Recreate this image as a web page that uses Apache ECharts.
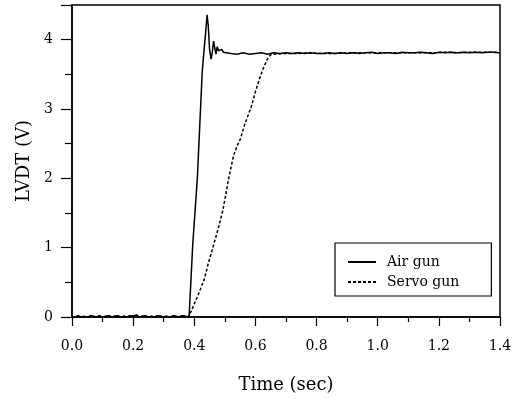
<!DOCTYPE html>
<html>
<head>
<meta charset="utf-8">
<script src="https://cdn.jsdelivr.net/npm/echarts@6/dist/echarts.min.js"></script>
<style>
html, body { margin: 0; padding: 0; background: #fff; }
#main { width: 518px; height: 399px; }
</style>
</head>
<body>
<div id="main"></div>
<script>
// baseline before the trigger (shared by both guns)
var baseTime = [0.00, 0.01, 0.02, 0.03, 0.04, 0.05, 0.06, 0.07, 0.08, 0.09,
    0.10, 0.11, 0.12, 0.13, 0.14, 0.15, 0.16, 0.17, 0.18, 0.19,
    0.20, 0.21, 0.22, 0.23, 0.24, 0.25, 0.26, 0.27, 0.28, 0.29,
    0.30, 0.31, 0.32, 0.33, 0.34, 0.35, 0.36, 0.37];
var baseLvdt = [0.01, -0.01, 0.02, 0.00, 0.01, -0.01, 0.02, 0.01, 0.00, 0.02,
    -0.01, 0.01, 0.02, 0.00, 0.01, 0.02, -0.01, 0.01, 0.00, 0.02,
    0.01, 0.03, 0.00, 0.01, 0.02, -0.01, 0.01, 0.00, 0.02, 0.01,
    0.00, 0.01, -0.01, 0.02, 0.01, 0.00, 0.02, 0.01];

// air gun rise and ringing
var airRiseTime = [0.383, 0.395, 0.41, 0.426, 0.432, 0.437, 0.442, 0.446, 0.45, 0.455,
    0.459, 0.463, 0.467, 0.471, 0.475, 0.479, 0.485, 0.49, 0.495, 0.50];
var airRiseLvdt = [0.00, 1.05, 2.00, 3.54, 3.85, 4.10, 4.36, 4.18, 3.86, 3.72,
    3.82, 3.98, 3.88, 3.79, 3.90, 3.84, 3.82, 3.86, 3.82, 3.80];

// servo gun rise
var servoRiseTime = [0.38, 0.39, 0.40, 0.41, 0.42, 0.433, 0.445, 0.462, 0.478, 0.492,
    0.502, 0.512, 0.528, 0.54, 0.551, 0.565, 0.577, 0.587, 0.60, 0.613,
    0.626, 0.639, 0.649];
var servoRiseLvdt = [0.00, 0.08, 0.19, 0.29, 0.40, 0.55, 0.76, 1.02, 1.27, 1.51,
    1.74, 1.99, 2.32, 2.47, 2.57, 2.78, 2.92, 3.04, 3.25, 3.43,
    3.59, 3.72, 3.78];

// settled level
var airPlateauTime = [0.52, 0.54, 0.56, 0.58, 0.60, 0.62, 0.64, 0.66, 0.68, 0.70,
    0.72, 0.74, 0.76, 0.78, 0.80, 0.82, 0.84, 0.86, 0.88, 0.90,
    0.92, 0.94, 0.96, 0.98, 1.00, 1.02, 1.04, 1.06, 1.08, 1.10,
    1.12, 1.14, 1.16, 1.18, 1.20, 1.22, 1.24, 1.26, 1.28, 1.30,
    1.32, 1.34, 1.36, 1.38, 1.40];
var airPlateau = [3.80, 3.79, 3.81, 3.79, 3.80, 3.81, 3.79, 3.81, 3.80, 3.81,
    3.80, 3.81, 3.80, 3.81, 3.80, 3.80, 3.81, 3.80, 3.81, 3.80,
    3.81, 3.80, 3.81, 3.82, 3.80, 3.81, 3.81, 3.80, 3.82, 3.81,
    3.81, 3.82, 3.81, 3.80, 3.82, 3.81, 3.82, 3.81, 3.82, 3.81,
    3.82, 3.81, 3.82, 3.82, 3.81];
var servoPlateauTime = [0.66, 0.70, 0.74, 0.78, 0.82, 0.86, 0.90, 0.94, 0.98, 1.02,
    1.06, 1.10, 1.14, 1.18, 1.22, 1.26, 1.30, 1.34, 1.38, 1.40];
var servoPlateau = [3.79, 3.80, 3.80, 3.81, 3.80, 3.80, 3.81, 3.81, 3.81, 3.81,
    3.81, 3.81, 3.81, 3.81, 3.82, 3.81, 3.82, 3.82, 3.82, 3.81];

var xTicks = ['0.0', '0.2', '0.4', '0.6', '0.8', '1.0', '1.2', '1.4'];

function pairs(t, v) {
    return t.map(function (x, i) { return [x, v[i]]; });
}

var airData = pairs(baseTime, baseLvdt)
    .concat(pairs(airRiseTime, airRiseLvdt))
    .concat(pairs(airPlateauTime, airPlateau));
var servoData = pairs(baseTime, baseLvdt)
    .concat(pairs(servoRiseTime, servoRiseLvdt))
    .concat(pairs(servoPlateauTime, servoPlateau));

var font = 'DejaVu Serif';
var myChart = echarts.init(document.getElementById('main'));
var option = {
    backgroundColor: '#fff',
    animation: false,
    grid: {
        left: 72, right: 18, top: 5, bottom: 81,
        show: true, borderColor: '#000', borderWidth: 1.5
    },
    legend: {
        orient: 'vertical',
        left: 335, top: 243,
        padding: [12, 32, 7, 12],
        itemGap: 6,
        itemWidth: 28,
        itemHeight: 14,
        borderColor: '#000',
        borderWidth: 1.2,
        backgroundColor: '#fff',
        itemStyle: { opacity: 0 },
        textStyle: { fontFamily: font, fontSize: 14, color: '#000', padding: [0, 0, 0, 6] },
        data: ['Air gun', 'Servo gun']
    },
    xAxis: {
        type: 'value',
        min: 0, max: 1.4, interval: 0.2,
        name: 'Time (sec)',
        nameLocation: 'middle',
        nameGap: 59,
        nameTextStyle: { fontFamily: font, fontSize: 18, color: '#000' },
        axisLine: { onZero: false, lineStyle: { color: '#000', width: 1.5 } },
        axisTick: { length: 9, lineStyle: { color: '#000', width: 1.2 } },
        minorTick: { show: true, splitNumber: 2, length: 5, lineStyle: { color: '#000', width: 1.2 } },
        axisLabel: {
            margin: 22, fontFamily: font, fontSize: 14, color: '#000',
            formatter: function (v) { return xTicks[Math.round(v / 0.2)]; }
        },
        splitLine: { show: false }
    },
    yAxis: {
        type: 'value',
        min: 0, max: 4.5, interval: 1,
        name: 'LVDT (V)',
        nameLocation: 'middle',
        nameGap: 38,
        nameTextStyle: { fontFamily: font, fontSize: 18, color: '#000' },
        axisLine: { show: true, lineStyle: { color: '#000', width: 1.5 } },
        axisTick: { length: 11, lineStyle: { color: '#000', width: 1.2 } },
        minorTick: { show: true, splitNumber: 2, length: 7, lineStyle: { color: '#000', width: 1.2 } },
        axisLabel: {
            margin: 19, fontFamily: font, fontSize: 14, color: '#000',
            formatter: function (v) { return Number.isInteger(v) ? String(v) : ''; }
        },
        splitLine: { show: false }
    },
    series: [{
        name: 'Air gun',
        type: 'line',
        data: airData,
        symbol: 'none',
        lineStyle: { color: '#000', width: 1.5 },
        itemStyle: { color: '#000' }
    }, {
        name: 'Servo gun',
        type: 'line',
        data: servoData,
        symbol: 'none',
        lineStyle: { color: '#000', width: 1.5, type: [3, 2] },
        itemStyle: { color: '#000' }
    }]
};
myChart.setOption(option);
</script>
</body>
</html>
